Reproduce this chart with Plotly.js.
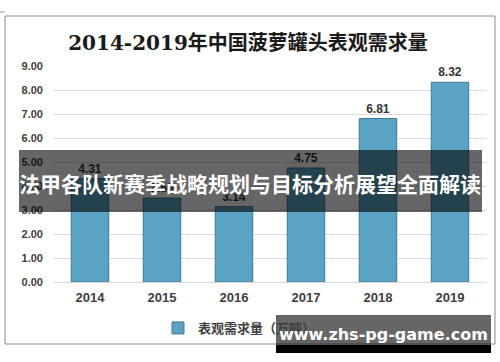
<!DOCTYPE html>
<html>
<head>
<meta charset="utf-8">
<script src="https://cdn.plot.ly/plotly-3.0.1.min.js"></script>
<style>html,body{margin:0;padding:0;background:#fff;}#chart{width:500px;height:362px;}</style>
</head>
<body>
<div id="chart"></div>
<script>
const years = ['2014', '2015', '2016', '2017', '2018', '2019'];
const demand = [4.31, 3.50, 3.14, 4.75, 6.81, 8.32];
const labels = ['4.31', '3.50', '3.14', '4.75', '6.81', '8.32'];
const yTicks = [0, 1, 2, 3, 4, 5, 6, 7, 8, 9];
const yTickText = ['0.00', '1.00', '2.00', '3.00', '4.00', '5.00', '6.00', '7.00', '8.00', '9.00'];
const seriesName = '表观需求量（万吨）';
const chartTitle = '2014-2019年中国菠萝罐头表观需求量';
const bannerText = '法甲各队新赛季战略规划与目标分析展望全面解读';
const watermarkText = 'www.zhs-pg-game.com';

// pixel -> paper helpers (plot area: x 54..486, y 66..282)
const L = 54, W = 432, B = 282, H = 216;
const px = v => (v - L) / W;
const py = v => (B - v) / H;

const trace = {
  type: 'bar',
  x: years,
  y: demand,
  name: seriesName,
  text: labels,
  textposition: 'outside',
  cliponaxis: false,
  textfont: {family: 'Liberation Sans, Arial, sans-serif', size: 12, color: '#333333', weight: 'bold'},
  marker: {color: '#5ba3c4', line: {color: '#3f7895', width: 1}},
  showlegend: true
};

const layout = {
  width: 500, height: 362,
  margin: {l: L, r: 500 - L - W, t: 66, b: 362 - B},
  paper_bgcolor: '#ffffff',
  plot_bgcolor: '#ffffff',
  title: {
    text: chartTitle,
    x: 248 / 500, xanchor: 'center', xref: 'container',
    y: 1 - 43 / 362, yanchor: 'middle', yref: 'container',
    font: {family: 'DejaVu Serif, Noto Sans CJK SC, serif', size: 20, color: '#1a1a1a', weight: 'bold'}
  },
  bargap: 0.48,
  xaxis: {
    type: 'category',
    tickfont: {family: 'Liberation Sans, Arial, sans-serif', size: 13, color: '#404040', weight: 'bold'},
    showline: false, ticks: '', showgrid: false, zeroline: false,
    ticklabelstandoff: 6
  },
  yaxis: {
    range: [0, 9],
    tickvals: yTicks, ticktext: yTickText,
    tickfont: {family: 'Liberation Sans, Arial, sans-serif', size: 11, color: '#404040', weight: 'bold'},
    showgrid: true, gridcolor: '#d9d9d9', gridwidth: 1,
    zeroline: true, zerolinecolor: '#d9d9d9', zerolinewidth: 1,
    showline: false, ticks: '', ticklabelstandoff: 10
  },
  legend: {
    orientation: 'h',
    x: px(158), xanchor: 'left',
    y: py(328), yanchor: 'middle',
    font: {family: 'Noto Sans CJK SC, sans-serif', size: 13, color: '#404040', weight: 'bold'},
    itemwidth: 30, bgcolor: 'rgba(0,0,0,0)'
  },
  shapes: [
    {type: 'rect', xref: 'paper', yref: 'paper', x0: px(5), x1: px(495), y0: py(344), y1: py(16),
      line: {color: '#8c8c8c', width: 1}, fillcolor: 'rgba(0,0,0,0)', layer: 'below'},
    {type: 'line', xref: 'paper', yref: 'paper', x0: px(0), x1: px(5), y0: py(12), y1: py(12),
      line: {color: '#9a9a9a', width: 1}},
    {type: 'rect', xref: 'paper', yref: 'paper', x0: px(19), x1: px(482), y0: py(212), y1: py(150),
      line: {width: 0}, fillcolor: 'rgba(0,0,0,0.6)', layer: 'above'},
    {type: 'rect', xref: 'paper', yref: 'paper', x0: px(276), x1: px(491), y0: py(345), y1: py(315),
      line: {width: 0}, fillcolor: 'rgba(0,0,0,0.6)', layer: 'above'},
    {type: 'rect', xref: 'paper', yref: 'paper', x0: px(276), x1: px(491), y0: py(353), y1: py(345),
      line: {width: 0}, fillcolor: '#000000', layer: 'above'}
  ],
  annotations: [
    {text: bannerText, xref: 'paper', yref: 'paper', x: px(250), y: py(183),
      xanchor: 'center', yanchor: 'middle', showarrow: false,
      font: {family: 'Noto Sans CJK SC, sans-serif', size: 21, color: '#ffffff', weight: 'bold'}},
    {text: watermarkText, xref: 'paper', yref: 'paper', x: px(383), y: py(334),
      xanchor: 'center', yanchor: 'middle', showarrow: false,
      font: {family: 'DejaVu Sans, sans-serif', size: 16, color: '#ffffff', weight: 'bold'}}
  ]
};

Plotly.newPlot('chart', [trace], layout, {displayModeBar: false, staticPlot: true});
</script>
</body>
</html>
